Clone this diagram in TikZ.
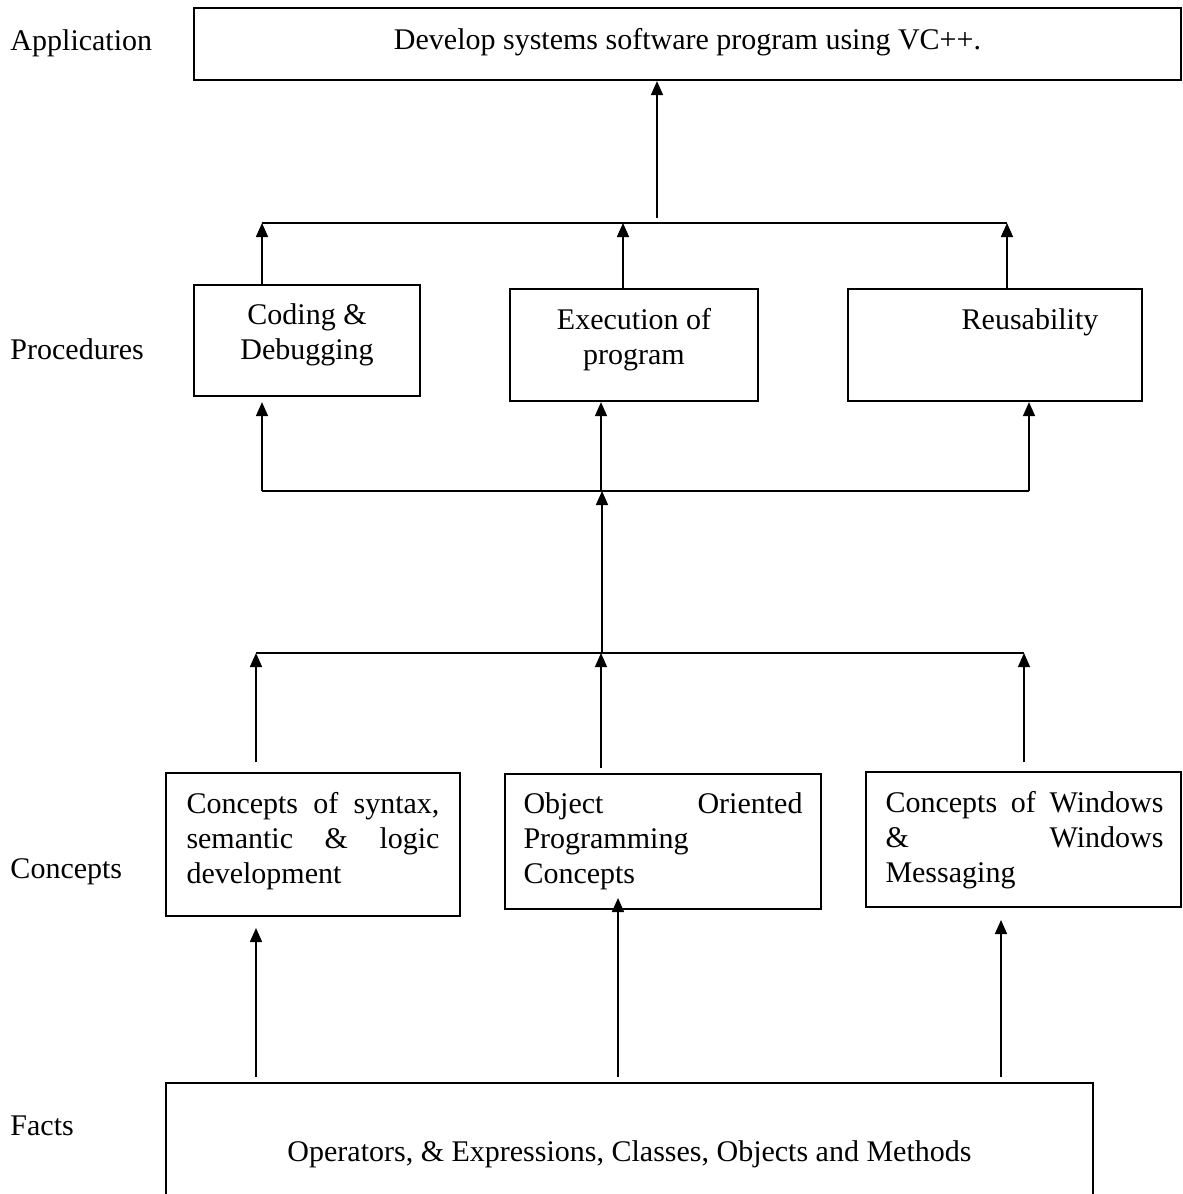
\documentclass[tikz,border=0pt]{standalone}
\usepackage{fontspec}
\setmainfont{Liberation Serif}
\usetikzlibrary{arrows.meta,fit}
\begin{document}
\begin{tikzpicture}[x=0.4pt,y=-0.4pt,
  box/.style={draw, line width=0.88pt, inner sep=0pt},
  conn/.style={line width=0.64pt},
  arr/.style={conn, -{Triangle[length=5.6pt,width=4.8pt]}},
  thinline/.style={line width=0.45pt},
  txt/.style={anchor=base, inner sep=0pt, font=\fontsize{12pt}{14pt}\selectfont},
  ltxt/.style={txt, anchor=base west},
]
\useasboundingbox (0,0) rectangle (1183,1194);
\clip (0,0) rectangle (1183,1194);

% level labels
\node[ltxt] (lApp) at (10,50) {Application};
\node[ltxt] (lPro) at (10,359) {Procedures};
\node[ltxt] (lCon) at (10,878) {Concepts};
\node[ltxt] (lFac) at (10,1135) {Facts};

% application
\node[box, fit={(194,8) (1181,80)}] (app) {};
\node[txt] (appT) at (687.5,49) {Develop systems software program using VC++.};

% procedures
\node[box, fit={(194,285) (420,396)}] (cod) {};
\node[txt] (codT1) at (307,324) {Coding \&};
\node[txt] (codT2) at (307,359) {Debugging};
\node[box, fit={(510,289) (758,401)}] (exe) {};
\node[txt] (exeT1) at (634,329) {Execution of};
\node[txt] (exeT2) at (634,364) {program};
\node[box, fit={(848,289) (1142,401)}] (reu) {};
\node[txt] (reuT) at (1030,329) {Reusability};

% concepts
\node[box, fit={(166,773) (460,916)}] (cA) {};
\node[ltxt] (cA1) at (186,813) {\makebox[101.2pt][s]{Concepts of syntax,}};
\node[ltxt] (cA2) at (186,848) {\makebox[101.2pt][s]{semantic \& logic}};
\node[ltxt] (cA3) at (186,883) {development};
\node[box, fit={(505,774) (821,909)}] (cB) {};
\node[ltxt] (cB1) at (523,813) {\makebox[111.6pt][s]{Object Oriented}};
\node[ltxt] (cB2) at (523,848) {Programming};
\node[ltxt] (cB3) at (523,883) {Concepts};
\node[box, fit={(866,772) (1181,907)}] (cC) {};
\node[ltxt] (cC1) at (885,812) {\makebox[111.2pt][s]{Concepts of Windows}};
\node[ltxt] (cC2) at (885,847) {\makebox[111.2pt][s]{\& Windows}};
\node[ltxt] (cC3) at (885,882) {Messaging};

% facts
\node[box, fit={(166,1083) (1093,1215)}] (fac) {};
\node[txt] (facT) at (629.5,1161) {Operators, \& Expressions, Classes, Objects and Methods};

% procedures -> application
\coordinate (jA) at (657,218);
\draw[arr] (jA) -- (jA |- app.south);
\coordinate (hL1) at (262,223);
\coordinate (hM1) at (623,223);
\coordinate (hR1) at (1007,223);
\draw[conn] (hL1) -- (hR1);
\draw[arr] (cod.north -| hL1) -- (hL1);
\draw[arr] (exe.north -| hM1) -- (hM1);
\draw[arr] (reu.north -| hR1) -- (hR1);

% bus -> procedures
\coordinate (hL2) at (262,491);
\coordinate (hM2) at (601,491);
\coordinate (hR2) at (1029,491);
\draw[conn] (hL2) -- (hR2);
\draw[arr] (hL2) -- (hL2 |- exe.south);
\draw[arr] (hM2) -- (hM2 |- exe.south);
\draw[arr] (hR2) -- (hR2 |- reu.south);
\coordinate (jB) at (602,653);
\draw[arr] (jB) -- (jB |- hM2);

% concepts -> bus
\coordinate (hL3) at (256,653);
\coordinate (hR3) at (1024,653);
\draw[conn] (hL3) -- (hR3);
\coordinate (sL3) at (256,762);
\coordinate (sM3) at (601,768);
\coordinate (sR3) at (1024,762);
\draw[arr] (sL3) -- (hL3);
\draw[arr, thinline] (sM3) -- (sM3 |- hL3);
\draw[arr, thinline] (sR3) -- (hR3);

% facts -> concepts
\coordinate (bL) at (256,1077);
\coordinate (bM) at (618,1077);
\coordinate (bR) at (1001,1077);
\coordinate (tL) at (256,928);
\coordinate (tM) at (618,898);
\coordinate (tR) at (1001,920);
\draw[arr] (bL) -- (tL);
\draw[arr] (bM) -- (tM);
\draw[arr] (bR) -- (tR);
\end{tikzpicture}
\end{document}
